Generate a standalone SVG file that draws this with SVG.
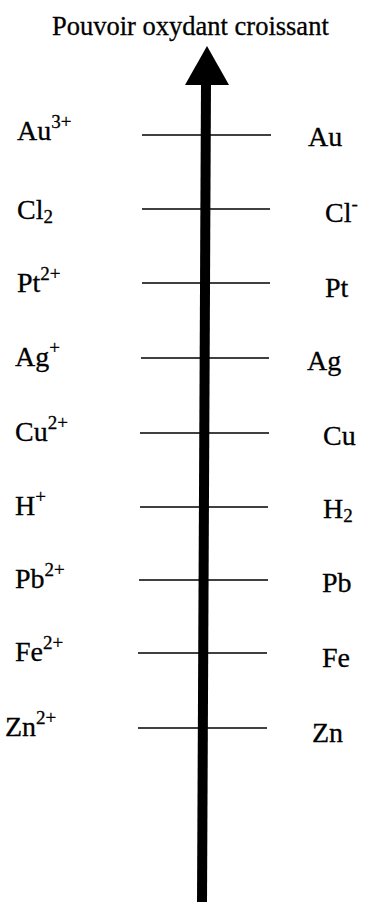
<svg xmlns="http://www.w3.org/2000/svg" width="368" height="902" viewBox="0 0 368 902">
<style>
text{font-family:"Liberation Serif","Times New Roman",serif;fill:#000;font-size:28px;stroke:#000;stroke-width:0.3}
#title text{font-size:26.5px}
.sup{font-size:19px}
.tick{stroke:#000;stroke-width:1.6;fill:none}
</style>
<rect width="368" height="902" fill="#fff"/>
<g id="title"><text x="52" y="35">Pouvoir oxydant croissant</text></g>
<g id="connectors">
<line class="tick" x1="142" y1="135" x2="271" y2="135"/>
<line class="tick" x1="142" y1="209" x2="270" y2="209"/>
<line class="tick" x1="142" y1="283" x2="270" y2="283"/>
<line class="tick" x1="141" y1="358" x2="269" y2="358"/>
<line class="tick" x1="140" y1="433" x2="269" y2="433"/>
<line class="tick" x1="140" y1="507" x2="268" y2="507"/>
<line class="tick" x1="139" y1="580" x2="268" y2="580"/>
<line class="tick" x1="138" y1="653" x2="267" y2="653"/>
<line class="tick" x1="138" y1="728" x2="267" y2="728"/>
</g>
<g id="axis">
<polygon points="201,83 211,83 207,902 197,902" fill="#000"/>
<polygon points="207,46 229,85 185,85" fill="#000"/>
</g>
<g id="ox-Au"><text x="17" y="140">Au<tspan class="sup" dy="-12">3+</tspan></text></g>
<g id="red-Au"><text x="308" y="146">Au</text></g>
<g id="ox-Cl"><text x="17" y="219">Cl<tspan class="sup" dy="4">2</tspan></text></g>
<g id="red-Cl"><text x="325" y="222">Cl<tspan class="sup" dy="-12">-</tspan></text></g>
<g id="ox-Pt"><text x="17" y="292">Pt<tspan class="sup" dy="-12">2+</tspan></text></g>
<g id="red-Pt"><text x="325" y="297">Pt</text></g>
<g id="ox-Ag"><text x="15" y="366">Ag<tspan class="sup" dy="-12">+</tspan></text></g>
<g id="red-Ag"><text x="307" y="370">Ag</text></g>
<g id="ox-Cu"><text x="15" y="441">Cu<tspan class="sup" dy="-12">2+</tspan></text></g>
<g id="red-Cu"><text x="323" y="445">Cu</text></g>
<g id="ox-H"><text x="15" y="515">H<tspan class="sup" dy="-12">+</tspan></text></g>
<g id="red-H"><text x="323" y="518">H<tspan class="sup" dy="4">2</tspan></text></g>
<g id="ox-Pb"><text x="15" y="588">Pb<tspan class="sup" dy="-12">2+</tspan></text></g>
<g id="red-Pb"><text x="322" y="592">Pb</text></g>
<g id="ox-Fe"><text x="15" y="661">Fe<tspan class="sup" dy="-12">2+</tspan></text></g>
<g id="red-Fe"><text x="322" y="667">Fe</text></g>
<g id="ox-Zn"><text x="5" y="736">Zn<tspan class="sup" dy="-12">2+</tspan></text></g>
<g id="red-Zn"><text x="312" y="742">Zn</text></g>
</svg>
